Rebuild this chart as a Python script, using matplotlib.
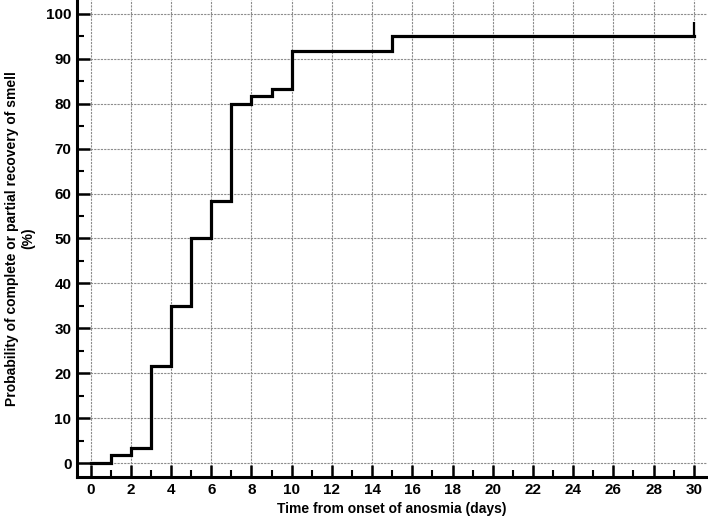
import matplotlib.pyplot as plt
import numpy as np

# Kaplan-Meier style step values
days = [0, 1, 2, 3, 4, 5, 6, 7, 8, 9, 10, 15, 30]
recovery = [0, 1.7, 3.3, 21.7, 35, 50, 58.3, 80, 81.7, 83.3, 91.7, 95, 95]
censor_day = [30]
censor_top = [98.2]

x_ticks = list(range(0, 31, 2))
y_ticks = list(range(0, 101, 10))

plt.rcParams['font.family'] = ['Liberation Sans', 'DejaVu Sans']
plt.rcParams['font.weight'] = 'bold'

fig = plt.figure(figsize=(7.08, 5.2), dpi=100)
ax = fig.add_axes([77 / 708, 1 - 477 / 520, (707 - 77) / 708, 477 / 520])

ax.step(days, recovery, where='post', color='black', lw=2.3, solid_joinstyle='miter')
ax.vlines(censor_day, recovery[-1], censor_top, color='black', lw=1.6)

ax.set_xlim(-0.68, 30.66)
ax.set_ylim(-3.1, 103.1)
ax.set_xticks(x_ticks)
ax.set_yticks(y_ticks)
ax.set_xticks(np.arange(1, 31, 2), minor=True)
ax.set_yticks(np.arange(5, 101, 10), minor=True)

ax.grid(True, which='major', color='#8c8c8c', linestyle=(0, (2, 1)), lw=0.8)
ax.set_axisbelow(True)

for side in ['top', 'right']:
    ax.spines[side].set_visible(False)
for side in ['left', 'bottom']:
    ax.spines[side].set_linewidth(2.2)

ax.tick_params(which='major', direction='in', length=9, width=1.8, labelsize=11, pad=4)
ax.tick_params(which='minor', direction='in', length=5, width=1.5)
for lab in ax.get_xticklabels() + ax.get_yticklabels():
    lab.set_fontweight('bold')

ax.set_xlabel('Time from onset of anosmia (days)', fontsize=10, fontweight='bold', labelpad=4)
ax.set_ylabel('Probability of complete or partial recovery of smell\n(%)',
              fontsize=10, fontweight='bold', labelpad=8)

fig.savefig('out.png', dpi=100)
